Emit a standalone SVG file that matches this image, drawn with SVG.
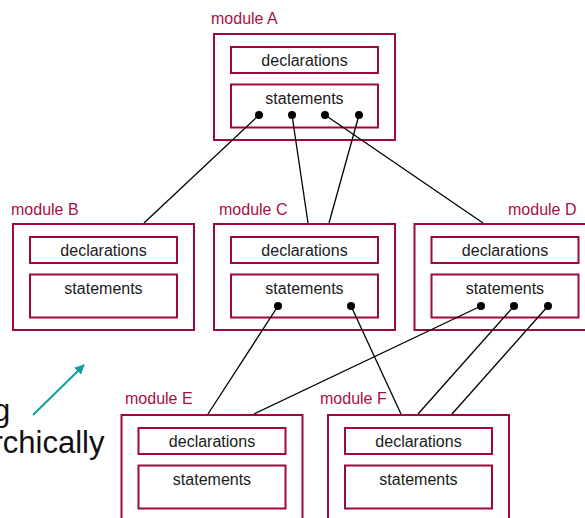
<svg xmlns="http://www.w3.org/2000/svg" width="585" height="518" viewBox="0 0 585 518">
<defs>
<style>
.outer{fill:#fff;stroke:#a0073d;stroke-width:2}
.inner{fill:#fff;stroke:#a0073d;stroke-width:2}
.lbl{font-family:"Liberation Sans",Arial,sans-serif;font-size:16px;fill:#a8103f}
.txt{font-family:"Liberation Sans",Arial,sans-serif;font-size:16px;fill:#1a1a1a;text-anchor:middle}
.big{font-family:"Liberation Sans",Arial,sans-serif;font-size:31px;fill:#111}
.dot{fill:#000}
.con line{stroke:#000;stroke-width:1.3}
</style>
<marker id="ah" viewBox="0 0 10 10" refX="9" refY="5" markerWidth="5" markerHeight="5" orient="auto" markerUnits="strokeWidth">
<path d="M0,0 L10,5 L0,10 z" fill="#12a09c"/>
</marker>
</defs>
<rect width="585" height="518" fill="#fff"/>

<g id="moduleA">
<text class="lbl" x="211" y="24">module A</text>
<rect class="outer" x="214" y="34" width="181" height="106"/>
<rect class="inner" x="231" y="47" width="147" height="26"/>
<text class="txt" x="304.5" y="65.5">declarations</text>
<rect class="inner" x="231" y="84.5" width="147" height="43"/>
<text class="txt" x="304.5" y="104">statements</text>
</g>

<g id="moduleB">
<text class="lbl" x="11" y="215">module B</text>
<rect class="outer" x="13" y="224" width="181" height="106"/>
<rect class="inner" x="30" y="237" width="147" height="26"/>
<text class="txt" x="103.5" y="255.5">declarations</text>
<rect class="inner" x="30" y="274.5" width="147" height="43"/>
<text class="txt" x="103.5" y="294">statements</text>
</g>

<g id="moduleC">
<text class="lbl" x="219" y="215">module C</text>
<rect class="outer" x="214" y="224" width="181" height="106"/>
<rect class="inner" x="231" y="237" width="147" height="26"/>
<text class="txt" x="304.5" y="255.5">declarations</text>
<rect class="inner" x="231" y="274.5" width="147" height="43"/>
<text class="txt" x="304.5" y="294">statements</text>
</g>

<g id="moduleD">
<text class="lbl" x="508" y="215">module D</text>
<rect class="outer" x="414.5" y="224" width="181" height="106"/>
<rect class="inner" x="431.5" y="237" width="147" height="26"/>
<text class="txt" x="505" y="255.5">declarations</text>
<rect class="inner" x="431.5" y="274.5" width="147" height="43"/>
<text class="txt" x="505" y="294">statements</text>
</g>

<g id="moduleE">
<text class="lbl" x="125" y="404">module E</text>
<rect class="outer" x="121.5" y="415" width="181" height="106"/>
<rect class="inner" x="138.5" y="428" width="147" height="26"/>
<text class="txt" x="212" y="446.5">declarations</text>
<rect class="inner" x="138.5" y="465.5" width="147" height="43"/>
<text class="txt" x="212" y="485">statements</text>
</g>

<g id="moduleF">
<text class="lbl" x="320" y="404">module F</text>
<rect class="outer" x="328" y="415" width="181" height="106"/>
<rect class="inner" x="345" y="428" width="147" height="26"/>
<text class="txt" x="418.5" y="446.5">declarations</text>
<rect class="inner" x="345" y="465.5" width="147" height="43"/>
<text class="txt" x="418.5" y="485">statements</text>
</g>

<g id="connectors" class="con">
<line x1="259" y1="115" x2="144" y2="223"/>
<line x1="292" y1="115" x2="308" y2="223"/>
<line x1="359" y1="115" x2="329" y2="223"/>
<line x1="325" y1="115" x2="483" y2="223"/>
<line x1="278" y1="306" x2="208" y2="414"/>
<line x1="481" y1="306" x2="254" y2="414"/>
<line x1="351" y1="306" x2="401" y2="414"/>
<line x1="514" y1="306" x2="418" y2="414"/>
<line x1="548" y1="306" x2="452" y2="414"/>
<circle class="dot" cx="259" cy="115" r="4"/>
<circle class="dot" cx="292" cy="115" r="4"/>
<circle class="dot" cx="325" cy="115" r="4"/>
<circle class="dot" cx="359" cy="115" r="4"/>
<circle class="dot" cx="278" cy="306" r="4"/>
<circle class="dot" cx="351" cy="306" r="4"/>
<circle class="dot" cx="481" cy="306" r="4"/>
<circle class="dot" cx="514" cy="306" r="4"/>
<circle class="dot" cx="548" cy="306" r="4"/>
</g>

<g id="caption">
<line x1="33" y1="415" x2="84" y2="365" stroke="#12a09c" stroke-width="2" marker-end="url(#ah)"/>
<text class="big" x="-7" y="421">g</text>
<text class="big" x="104.5" y="453" text-anchor="end">rchically</text>
</g>
</svg>
